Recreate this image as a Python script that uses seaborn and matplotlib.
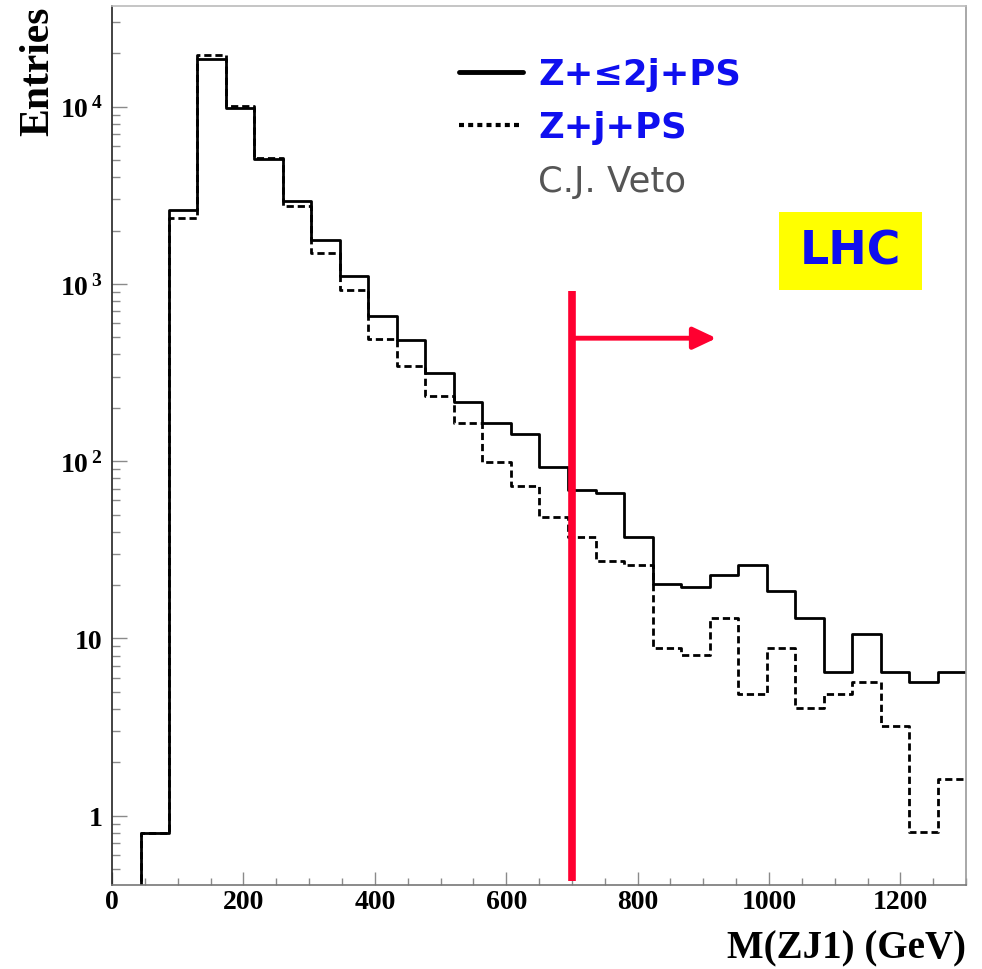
import numpy as np
import pandas as pd
import matplotlib
matplotlib.use("Agg")
import matplotlib.pyplot as plt
import seaborn as sns
from matplotlib.lines import Line2D
from matplotlib.patches import Rectangle
from matplotlib.ticker import FixedLocator, MultipleLocator, NullFormatter, FuncFormatter

# ---------------- data ----------------
X_MIN, X_MAX, N_BINS = 0, 1300, 30
series_names = ["Z+\u22642j+PS", "Z+j+PS"]
entries_2j = [0, 0.8, 2600, 18700, 9800, 5100, 2950, 1780, 1110, 660,
              485, 313, 216, 165, 142, 93, 69, 66, 37.5, 20.3,
              19.4, 22.9, 26, 18.6, 13.0, 6.5, 10.6, 6.5, 5.65, 6.5]
entries_1j = [0, 0.8, 2370, 19500, 10100, 5150, 2750, 1500, 925, 488,
              345, 234, 164, 98.5, 72.6, 48.4, 37.5, 27.4, 25.9, 8.8,
              8.1, 13.0, 4.86, 8.8, 4.05, 4.86, 5.65, 3.22, 0.806, 1.61]
y_tick_values = [1, 10, 100, 1000, 10000]
y_tick_labels = ["1", "10", r"$\mathbf{10^{\,2}}$", r"$\mathbf{10^{\,3}}$", r"$\mathbf{10^{\,4}}$"]
x_tick_values = [0, 200, 400, 600, 800, 1000, 1200]
cut_value = 700
extra_labels = ["C.J. Veto", "LHC"]

edges = np.linspace(X_MIN, X_MAX, N_BINS + 1)
centers = 0.5 * (edges[:-1] + edges[1:])
df = pd.DataFrame({
    "mass": np.concatenate([centers, centers]),
    "entries": np.concatenate([entries_2j, entries_1j]),
    "series": [series_names[0]] * N_BINS + [series_names[1]] * N_BINS,
})

# ---------------- style ----------------
sns.set_style("white")
plt.rcParams["font.family"] = ["Liberation Serif", "DejaVu Sans"]
plt.rcParams["mathtext.fontset"] = "custom"
plt.rcParams["mathtext.bf"] = "Liberation Serif:bold"
plt.rcParams["mathtext.rm"] = "Liberation Serif"
plt.rcParams["text.color"] = "black"
plt.rcParams["axes.labelcolor"] = "black"
plt.rcParams["xtick.labelcolor"] = "black"
plt.rcParams["ytick.labelcolor"] = "black"

fig = plt.figure(figsize=(9.82, 9.70), dpi=100)
ax = fig.add_axes([0.1141, 0.0866, 0.8697, 0.9062])

sns.histplot(data=df[df.series == series_names[0]], x="mass", weights="entries",
             bins=N_BINS, binrange=(X_MIN, X_MAX), element="step", fill=False,
             color="black", linewidth=2.0, ax=ax)
sns.histplot(data=df[df.series == series_names[1]], x="mass", weights="entries",
             bins=N_BINS, binrange=(X_MIN, X_MAX), element="step", fill=False,
             color="black", linewidth=2.0, linestyle=(0, (2.6, 1.4)), ax=ax)

ax.set_yscale("log")
ax.set_xlim(X_MIN, X_MAX)
ax.set_ylim(0.406, 37000)

# ticks
ax.xaxis.set_major_locator(FixedLocator(x_tick_values))
ax.xaxis.set_minor_locator(MultipleLocator(50))
ax.yaxis.set_major_locator(FixedLocator(y_tick_values))
minor_y = [m * 10.0 ** d for d in range(-1, 5) for m in range(2, 10)]
ax.yaxis.set_minor_locator(FixedLocator(minor_y))
ax.yaxis.set_minor_formatter(NullFormatter())
lab_map = dict(zip(y_tick_values, y_tick_labels))
ax.yaxis.set_major_formatter(FuncFormatter(lambda v, p: lab_map.get(int(round(v)), "")))

ax.tick_params(axis="both", which="both", direction="in", color="#8a8a8a",
               labelsize=20, width=1.0, bottom=True, left=True, top=False, right=False,
               labelcolor="black")
ax.tick_params(axis="y", which="major", length=11, pad=7)
ax.tick_params(axis="y", which="minor", length=5.5)
ax.tick_params(axis="x", which="major", length=9.5, pad=3)
ax.tick_params(axis="x", which="minor", length=5)
for lab in ax.get_xticklabels() + ax.get_yticklabels():
    lab.set_fontweight("bold")

for side, col in [("left", "#222222"), ("bottom", "#777777"), ("top", "#bbbbbb"), ("right", "#999999")]:
    ax.spines[side].set_visible(True)
    ax.spines[side].set_color(col)
    ax.spines[side].set_linewidth(1.2)

ax.set_xlabel("M(ZJ1) (GeV)", fontsize=28, fontweight="bold", loc="right", color="black")
ax.xaxis.set_label_coords(1.0, -0.051)
ax.set_ylabel("Entries", fontsize=30, fontweight="bold", loc="top", color="black")
ax.yaxis.set_label_coords(-0.064, 1.0)

# cut line and arrow
red = "#ff0030"
ax.vlines(cut_value, 0.43, 908, color=red, linewidth=5.5, zorder=5)
ax.annotate("", xy=(920, 494), xytext=(cut_value, 494),
            arrowprops=dict(arrowstyle="-|>,head_length=0.7,head_width=0.33",
                            color=red, lw=3.5, shrinkA=0, shrinkB=0,
                            mutation_scale=20), zorder=5)

# legend
blue = "#0f0fef"
handles = [Line2D([], [], color="black", lw=3.5),
           Line2D([], [], color="black", lw=3.0, linestyle=(0, (1.2, 1.0))),
           Line2D([], [], alpha=0)]
leg = ax.legend(handles, [series_names[0], series_names[1], extra_labels[0]],
                loc="upper left", bbox_to_anchor=(0.406, 0.942), frameon=False,
                borderpad=0, borderaxespad=0, handlelength=1.8, handletextpad=0.45,
                labelspacing=0.55, prop={"family": "DejaVu Sans", "weight": "bold", "size": 25.5})
texts = leg.get_texts()
for t in texts[:2]:
    t.set_color(blue)
texts[2].set_color("#555555")
texts[2].set_fontweight("normal")
texts[2].set_fontsize(25.5)

# LHC box
ax.add_patch(Rectangle((0.781, 0.677), 0.1674, 0.0887, transform=ax.transAxes,
                       facecolor="#ffff00", edgecolor="none", zorder=4))
ax.text(0.865, 0.721, extra_labels[1], transform=ax.transAxes, ha="center", va="center",
        fontsize=33, fontweight="bold", color=blue, family="DejaVu Sans", zorder=6)

fig.savefig("out.png", dpi=100, facecolor="white")
